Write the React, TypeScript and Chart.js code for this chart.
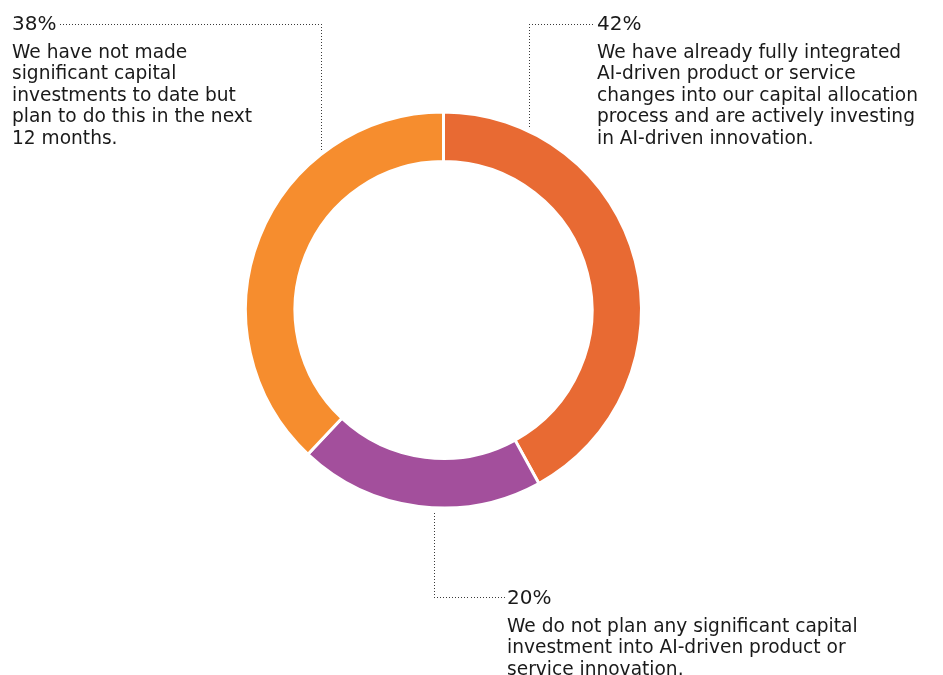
import React, { useEffect, useRef } from "react";
import { Chart, registerables } from "chart.js";

Chart.register(...registerables);

const categories = [
  "We have already fully integrated AI-driven product or service changes into our capital allocation process and are actively investing in AI-driven innovation.",
  "We do not plan any significant capital investment into AI-driven product or service innovation.",
  "We have not made significant capital investments to date but plan to do this in the next 12 months.",
];
const values = [42, 20, 38];
const colors = ["#E86A33", "#A34F9C", "#F68D2E"];

const labelLines = [
  [
    "We have already fully integrated",
    "AI-driven product or service",
    "changes into our capital allocation",
    "process and are actively investing",
    "in AI-driven innovation.",
  ],
  [
    "We do not plan any significant capital",
    "investment into AI-driven product or",
    "service innovation.",
  ],
  [
    "We have not made",
    "significant capital",
    "investments to date but",
    "plan to do this in the next",
    "12 months.",
  ],
];

// callout layout: text position, connector x and elbow y, whether ring is above or below
const callouts = [
  { textX: 597, pctBaseline: 30, lineX: 529, elbowY: 24, lineEndX: 592, below: false },
  { textX: 507, pctBaseline: 604, lineX: 434, elbowY: 597, lineEndX: 504, below: true },
  { textX: 12, pctBaseline: 30, lineX: 321, elbowY: 24, lineEndX: 60, below: false },
];

const FONT = '"DejaVu Sans", sans-serif';

function dotted(ctx: CanvasRenderingContext2D, x1: number, y1: number, x2: number, y2: number) {
  const len = Math.hypot(x2 - x1, y2 - y1);
  const n = Math.floor(len / 3);
  for (let i = 0; i <= n; i++) {
    const t = n === 0 ? 0 : i / n;
    const x = x1 + (x2 - x1) * t;
    const y = y1 + (y2 - y1) * t;
    ctx.fillRect(Math.round(x), Math.round(y), 1, 1);
  }
}

const calloutPlugin = {
  id: "callouts",
  afterDraw(chart: any) {
    const ctx: CanvasRenderingContext2D = chart.ctx;
    const meta = chart.getDatasetMeta(0);
    const arc = meta.data[0];
    const cx = arc.x;
    const cy = arc.y;
    const R = arc.outerRadius;
    ctx.save();
    callouts.forEach((c, i) => {
      ctx.fillStyle = "#3a3a3a";
      const dx = c.lineX - cx;
      const dy = Math.sqrt(Math.max(R * R - dx * dx, 0));
      const ringY = c.below ? cy + dy + 5 : cy - dy - 5;
      dotted(ctx, c.lineX, c.elbowY, c.lineX, ringY);
      dotted(ctx, c.lineX, c.elbowY, c.lineEndX, c.elbowY);
      ctx.fillStyle = "#1a1a1a";
      ctx.textAlign = "left";
      ctx.textBaseline = "alphabetic";
      ctx.font = `20px ${FONT}`;
      ctx.fillText(`${values[i]}%`, c.textX, c.pctBaseline);
      ctx.font = `18.6px ${FONT}`;
      labelLines[i].forEach((line, j) => {
        ctx.fillText(line, c.textX, c.pctBaseline + 27.5 + j * 21.5);
      });
    });
    ctx.restore();
  },
};

export default function App() {
  const ref = useRef<HTMLCanvasElement | null>(null);
  useEffect(() => {
    if (!ref.current) return;
    const chart = new Chart(ref.current, {
      type: "doughnut",
      data: {
        labels: categories,
        datasets: [
          {
            data: values,
            backgroundColor: colors,
            borderColor: "#ffffff",
            borderWidth: 3,
            hoverOffset: 0,
          },
        ],
      },
      options: {
        animation: false,
        responsive: false,
        radius: 198,
        cutout: "75%",
        layout: { padding: { top: 113, bottom: 168, left: 247, right: 303 } },
        plugins: {
          legend: { display: false },
          tooltip: { enabled: false },
        },
      },
      plugins: [calloutPlugin],
    });
    return () => chart.destroy();
  }, []);
  return (
    <div style={{ position: "absolute", left: 0, top: 0, width: 943, height: 675, background: "#fff" }}>
      <canvas ref={ref} width={943} height={675} style={{ width: 943, height: 675 }} />
    </div>
  );
}
